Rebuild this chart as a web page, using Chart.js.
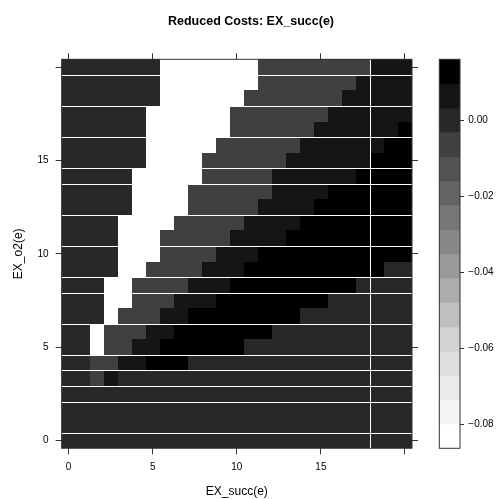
<!DOCTYPE html>
<html>
<head>
<meta charset="utf-8">
<script src="https://cdn.jsdelivr.net/npm/chart.js@4.4.1/dist/chart.umd.min.js"></script>
<style>
  html, body { margin: 0; padding: 0; background: #fff; }
  #myChart { display: block; }
</style>
</head>
<body>
<canvas id="myChart" width="502" height="499" style="width:502px;height:499px"></canvas>
<script>
// grid points (25 x 25 from 0 to 20)
const xVals = [0, 0.833, 1.667, 2.5, 3.333, 4.167, 5, 5.833, 6.667, 7.5, 8.333, 9.167, 10,
  10.833, 11.667, 12.5, 13.333, 14.167, 15, 15.833, 16.667, 17.5, 18.333, 19.167, 20];
const yVals = [0, 0.833, 1.667, 2.5, 3.333, 4.167, 5, 5.833, 6.667, 7.5, 8.333, 9.167, 10,
  10.833, 11.667, 12.5, 13.333, 14.167, 15, 15.833, 16.667, 17.5, 18.333, 19.167, 20];

// reduced costs, top row (EX_o2 = 20) first
const zRows = [
  [0,0,0,0,0,0,0,-.085,-.085,-.085,-.085,-.085,-.085,-.085,-.006,-.006,-.006,-.006,-.006,-.006,-.006,-.006,.006,.006,.006],
  [0,0,0,0,0,0,0,-.085,-.085,-.085,-.085,-.085,-.085,-.085,-.006,-.006,-.006,-.006,-.006,-.006,-.006,.006,.006,.006,.006],
  [0,0,0,0,0,0,0,-.085,-.085,-.085,-.085,-.085,-.085,-.006,-.006,-.006,-.006,-.006,-.006,-.006,.006,.006,.006,.006,.006],
  [0,0,0,0,0,0,-.085,-.085,-.085,-.085,-.085,-.085,-.006,-.006,-.006,-.006,-.006,-.006,-.006,.006,.006,.006,.006,.006,.006],
  [0,0,0,0,0,0,-.085,-.085,-.085,-.085,-.085,-.085,-.006,-.006,-.006,-.006,-.006,-.006,.006,.006,.006,.006,.006,.006,.015],
  [0,0,0,0,0,0,-.085,-.085,-.085,-.085,-.085,-.006,-.006,-.006,-.006,-.006,-.006,.006,.006,.006,.006,.006,.006,.015,.015],
  [0,0,0,0,0,0,-.085,-.085,-.085,-.085,-.006,-.006,-.006,-.006,-.006,-.006,.006,.006,.006,.006,.006,.006,.015,.015,.015],
  [0,0,0,0,0,-.085,-.085,-.085,-.085,-.085,-.006,-.006,-.006,-.006,-.006,.006,.006,.006,.006,.006,.006,.015,.015,.015,.015],
  [0,0,0,0,0,-.085,-.085,-.085,-.085,-.006,-.006,-.006,-.006,-.006,-.006,.006,.006,.006,.006,.015,.015,.015,.015,.015,.015],
  [0,0,0,0,0,-.085,-.085,-.085,-.085,-.006,-.006,-.006,-.006,-.006,.006,.006,.006,.006,.015,.015,.015,.015,.015,.015,.015],
  [0,0,0,0,-.085,-.085,-.085,-.085,-.006,-.006,-.006,-.006,-.006,.006,.006,.006,.006,.015,.015,.015,.015,.015,.015,.015,.015],
  [0,0,0,0,-.085,-.085,-.085,-.006,-.006,-.006,-.006,-.006,.006,.006,.006,.006,.015,.015,.015,.015,.015,.015,.015,.015,.015],
  [0,0,0,0,-.085,-.085,-.085,-.006,-.006,-.006,-.006,.006,.006,.006,.015,.015,.015,.015,.015,.015,.015,.015,.015,.015,.015],
  [0,0,0,0,-.085,-.085,-.006,-.006,-.006,-.006,.006,.006,.006,.015,.015,.015,.015,.015,.015,.015,.015,.015,.015,0,0],
  [0,0,0,-.085,-.085,-.006,-.006,-.006,-.006,.006,.006,.006,.015,.015,.015,.015,.015,.015,.015,.015,.015,0,0,0,0],
  [0,0,0,-.085,-.085,-.006,-.006,-.006,.006,.006,.006,.015,.015,.015,.015,.015,.015,.015,.015,0,0,0,0,0,0],
  [0,0,0,-.085,-.006,-.006,-.006,.006,.006,.015,.015,.015,.015,.015,.015,.015,.015,0,0,0,0,0,0,0,0],
  [0,0,-.085,-.006,-.006,-.006,.006,.006,.015,.015,.015,.015,.015,.015,.015,0,0,0,0,0,0,0,0,0,0],
  [0,0,-.085,-.006,-.006,.006,.006,.015,.015,.015,.015,.015,.015,0,0,0,0,0,0,0,0,0,0,0,0],
  [0,0,-.006,-.006,.006,.006,.015,.015,.015,0,0,0,0,0,0,0,0,0,0,0,0,0,0,0,0],
  [0,0,-.006,.006,0,0,0,0,0,0,0,0,0,0,0,0,0,0,0,0,0,0,0,0,0],
  [0,0,0,0,0,0,0,0,0,0,0,0,0,0,0,0,0,0,0,0,0,0,0,0,0],
  [0,0,0,0,0,0,0,0,0,0,0,0,0,0,0,0,0,0,0,0,0,0,0,0,0],
  [0,0,0,0,0,0,0,0,0,0,0,0,0,0,0,0,0,0,0,0,0,0,0,0,0],
  [0,0,0,0,0,0,0,0,0,0,0,0,0,0,0,0,0,0,0,0,0,0,0,0,0]
];

// axis ticks
const xTicks = [0, 5, 10, 15, 20];
const xTickLabels = ['0', '5', '10', '15', ''];
const yTicks = [0, 5, 10, 15, 20];
const yTickLabels = ['0', '5', '10', '15', ''];
const keyTicks = [0, -0.02, -0.04, -0.06, -0.08];
const keyTickLabels = ['0.00', '\u22120.02', '\u22120.04', '\u22120.06', '\u22120.08'];

// colour key: 16 bins between zMin and zMax, light to dark
const zMin = -0.0863, zMax = 0.0159;
const keyCols = ['#ffffff', '#f4f4f4', '#eaeaea', '#dedede', '#d2d2d2', '#bfbfbf', '#acacac', '#999999',
  '#888888', '#767676', '#646464', '#525252', '#404040', '#282828', '#151515', '#000000'];

// white seams seen in the picture (row index just above seam / column index right of seam)
const ySeams = [1, 3, 4, 6, 8, 10, 11, 13, 15, 17, 18, 20, 22, 24];
const xSeams = [22];

const FONT = "'Liberation Sans', Arial, Helvetica, sans-serif";
const nBins = keyCols.length;
const at = keyCols.map((c, i) => zMin + (zMax - zMin) * i / nBins).concat([zMax]);

function colFor(v) {
  let i = Math.floor((v - zMin) / (zMax - zMin) * nBins);
  i = Math.max(0, Math.min(nBins - 1, i));
  return keyCols[i];
}

const cells = [];
zRows.forEach((row, r) => {
  row.forEach((v, ci) => cells.push({ x: xVals[ci], y: yVals[yVals.length - 1 - r], v: v }));
});

const hx = (xVals[1] - xVals[0]) / 2;
const hy = (yVals[1] - yVals[0]) / 2;
const xMin = xVals[0] - hx, xMax = xVals[xVals.length - 1] + hx;
const yMin = yVals[0] - hy, yMax = yVals[yVals.length - 1] + hy;

//PLUGIN: draws the cells and the colour key
const levelPlot = {
  id: 'levelPlot',
  beforeDatasetsDraw(chart) {
    const { ctx, chartArea: a, scales } = chart;
    const x = scales.x, y = scales.y, c = scales.c;
    ctx.save();
    chart.data.datasets[0].data.forEach(p => {
      const l = Math.round(x.getPixelForValue(p.x - hx));
      const r = Math.round(x.getPixelForValue(p.x + hx));
      const t = Math.round(y.getPixelForValue(p.y + hy));
      const b = Math.round(y.getPixelForValue(p.y - hy));
      ctx.fillStyle = colFor(p.v);
      ctx.fillRect(l, t, r - l, b - t);
    });
    ctx.fillStyle = '#ffffff';
    ySeams.forEach(i => {
      const py = Math.round(y.getPixelForValue(yVals[i] - hy));
      ctx.fillRect(a.left, py, a.right - a.left, 1);
    });
    xSeams.forEach(i => {
      const px = Math.round(x.getPixelForValue(xVals[i] - hx));
      ctx.fillRect(px, a.top, 1, a.bottom - a.top);
    });
    ctx.strokeStyle = '#333333';
    ctx.lineWidth = 1;
    ctx.strokeRect(a.left, a.top, a.right - a.left, a.bottom - a.top);

    // colour key
    const kl = a.right + 27.3, kr = a.right + 48;
    for (let i = 0; i < nBins; i++) {
      const t = c.getPixelForValue(at[i + 1]);
      const b = c.getPixelForValue(at[i]);
      ctx.fillStyle = keyCols[i];
      ctx.fillRect(kl, t, kr - kl, b - t + 0.5);
    }
    ctx.strokeStyle = '#333333';
    ctx.strokeRect(kl, c.getPixelForValue(zMax), kr - kl, c.getPixelForValue(zMin) - c.getPixelForValue(zMax));
    keyTicks.forEach(v => {
      const py = Math.round(c.getPixelForValue(v)) + 0.5;
      ctx.beginPath(); ctx.moveTo(kr, py); ctx.lineTo(kr + 4, py); ctx.stroke();
    });
    ctx.restore();
  }
};

const tickGrid = { drawOnChartArea: false, drawTicks: true, tickLength: 6, color: '#333333', lineWidth: 1 };

const config = {
  type: 'scatter',
  data: {
    datasets: [{ data: cells, pointRadius: 0, pointHoverRadius: 0, showLine: false }]
  },
  options: {
    responsive: false,
    animation: false,
    events: [],
    layout: { padding: 0, autoPadding: false },
    plugins: {
      legend: { display: false },
      tooltip: { enabled: false },
      title: {
        display: true,
        text: 'Reduced Costs: EX_succ(e)',
        color: '#000',
        font: { family: FONT, size: 12.5, weight: 'bold' },
        padding: { top: 14.5, bottom: 21.8 }
      }
    },
    scales: {
      x: {
        type: 'linear', position: 'bottom', min: xMin, max: xMax,
        afterBuildTicks: s => { s.ticks = xTicks.map(v => ({ value: v })); },
        ticks: { callback: (v, i) => xTickLabels[i], autoSkip: false, maxRotation: 0,
          color: '#000', font: { family: FONT, size: 10 }, padding: 6.5 },
        grid: tickGrid,
        border: { display: false },
        title: { display: true, text: 'EX_succ(e)', color: '#000',
          font: { family: FONT, size: 12 }, padding: { top: 0, bottom: 0.4 } },
        afterFit: s => { s.height = 50.7; }
      },
      x2: {
        type: 'linear', position: 'top', min: xMin, max: xMax,
        afterBuildTicks: s => { s.ticks = xTicks.map(v => ({ value: v })); },
        ticks: { display: false },
        grid: tickGrid,
        border: { display: false },
        afterFit: s => { s.height = 8; }
      },
      y: {
        type: 'linear', position: 'left', min: yMin, max: yMax,
        afterBuildTicks: s => { s.ticks = yTicks.map(v => ({ value: v })); },
        ticks: { callback: (v, i) => yTickLabels[i], autoSkip: false,
          color: '#000', font: { family: FONT, size: 10 }, padding: 7 },
        grid: tickGrid,
        border: { display: false },
        title: { display: true, text: 'EX_o2(e)', color: '#000',
          font: { family: FONT, size: 12 }, padding: { top: 11, bottom: 0 } },
        afterFit: s => { s.width = 61.6; }
      },
      y2: {
        type: 'linear', position: 'right', min: yMin, max: yMax, weight: 0,
        afterBuildTicks: s => { s.ticks = yTicks.map(v => ({ value: v })); },
        ticks: { display: false },
        grid: tickGrid,
        border: { display: false },
        afterFit: s => { s.width = 52.3; }
      },
      c: {
        type: 'linear', position: 'right', min: zMin, max: zMax, weight: 5,
        afterBuildTicks: s => { s.ticks = keyTicks.map(v => ({ value: v })); },
        ticks: { callback: (v, i) => keyTickLabels[i], autoSkip: false,
          color: '#000', font: { family: FONT, size: 10 }, padding: 4 },
        grid: { display: false, drawTicks: false },
        border: { display: false },
        afterFit: s => { s.width = 37.7; }
      }
    }
  },
  plugins: [levelPlot]
};

//RENDER
let myChart = new Chart(document.getElementById('myChart'), config);
</script>
</body>
</html>
